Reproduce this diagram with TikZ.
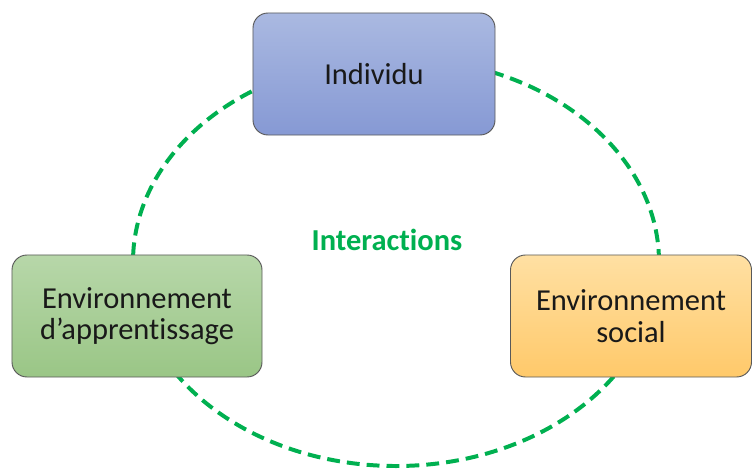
\documentclass[tikz,border=0pt]{standalone}
\usepackage{fontspec}
\setmainfont{Carlito}[Ligatures=NoCommon]
\usetikzlibrary{positioning}

\definecolor{ringGreen}{HTML}{00B050}
\definecolor{blueTop}{HTML}{AAB9E1}
\definecolor{blueBot}{HTML}{8699D4}
\definecolor{greenTop}{HTML}{B7D7A9}
\definecolor{greenBot}{HTML}{9AC686}
\definecolor{orangeTop}{HTML}{FFE0A3}
\definecolor{orangeBot}{HTML}{FFC96A}

\tikzset{
	pole/.style={draw=black!65, line width=0.8pt, rounded corners=0.45cm, align=center,
		font=\fontsize{26}{27}\selectfont, text=black!90, inner sep=0pt},
	ring/.style={ringGreen, line width=3.4pt, dash pattern=on 11pt off 6pt},
}

\begin{document}
\begin{tikzpicture}[x=0.03cm, y=0.03cm]
	\useasboundingbox (0, 0) rectangle (752, 468);
	
	%Ring
	\coordinate (ctr) at (396, 206);
	\draw[ring] (ctr) ellipse [x radius=7.89cm, y radius=6.12cm];
	
	%Pole
	\node[pole, minimum width=7.26cm, minimum height=3.66cm, top color=blueTop, bottom color=blueBot] (individu) at (374, 394) {Individu};
	\node[pole, minimum width=7.5cm, minimum height=3.66cm, top color=greenTop, bottom color=greenBot] (apprent) at (137, 152) {Environnement\\d’apprentissage};
	\node[pole, minimum width=7.23cm, minimum height=3.66cm, top color=orangeTop, bottom color=orangeBot] (social) at (631, 152) {Environnement\\social};
	
	\node[ringGreen, font=\fontsize{26}{27}\selectfont\bfseries] (inter) at (387, 228) {Interactions};
	
\end{tikzpicture}
\end{document}
